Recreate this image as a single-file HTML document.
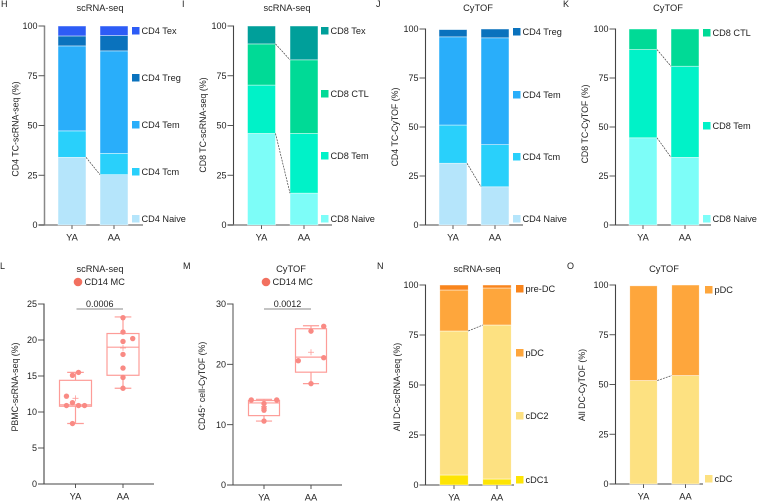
<!DOCTYPE html>
<html lang="en">
<head>
<meta charset="utf-8">
<title>Immune cell composition charts</title>
<style>
html,body{margin:0;padding:0;background:#fff;width:758px;height:501px;overflow:hidden}
svg{display:block}
text{font-family:"Liberation Sans",sans-serif;fill:#222}
</style>
</head>
<body>
<svg id="figure" width="758" height="501" viewBox="0 0 758 501" xmlns="http://www.w3.org/2000/svg"></svg>
<script>
// ---------- chart data ----------
const groups = ['YA', 'AA'];
const stackTicks = [0, 25, 50, 75, 100];

const hNaive = [34, 25.3];
const hTcm = [13.3, 10.7];
const hTem = [42.7, 51.5];
const hTreg = [5, 7.7];
const hTex = [5, 4.8];

const iNaive = [46, 16];
const iTem = [24.3, 30];
const iCtl = [20.7, 37];
const iTex = [9, 17];

const jNaive = [31.5, 19.5];
const jTcm = [19.5, 21.5];
const jTem = [45, 54.5];
const jTreg = [3.7, 4.5];

const kNaive = [44.5, 34.5];
const kTem = [45, 46.5];
const kCtl = [10.5, 19];

const nCdc1 = [5, 3];
const nCdc2 = [72, 77];
const nPdc = [20.5, 18.5];
const nPre = [2.5, 1.5];

const oCdc = [52, 54.5];
const oPdc = [47.6, 45.5];

const lTicks = [0, 5, 10, 15, 20, 25];
const lYaValues = [8.4, 10.9, 10.9, 10.9, 11.3, 12.2, 15.1, 15.5];
const lYaColumns = [-0.45, -1.35, 0.45, 1.35, -0.45, -1.35, -0.45, 0.45];
const lAaValues = [13.3, 14.8, 16.1, 18, 19.8, 20.2, 21.1, 23.1];
const lAaColumns = [0, 0, 0, 0, 0, 1.45, 0, 0];
const lYaBox = [8.4, 10.8, 11, 14.4, 15.5];
const lAaBox = [13.3, 15.1, 19, 20.9, 23.2];
const lMeans = [11.9, 18.9];
const lP = '0.0006';

const mTicks = [0, 10, 20, 30];
const mYaValues = [10.6, 12.4, 12.7, 13.5, 14.1, 14.1];
const mYaColumns = [0, 0, 0, 0, -1.9, 1.9];
const mAaValues = [16.8, 20.6, 21.1, 25.5, 26.3];
const mAaColumns = [0, -1.9, 1.9, 0, 1.9];
const mYaBox = [10.6, 11.5, 13.6, 14, 14.2];
const mAaBox = [16.8, 18.7, 21.2, 25.9, 26.4];
const mMeans = [13, 22];
const mP = '0.0012';

// ---------- palette ----------
const C = {
  cd4Naive:'#b5e5fb', cd4Tcm:'#29d0fb', cd4Tem:'#29aefa', cd4Treg:'#0a72bd', cd4Tex:'#2d5cf6',
  cd8Naive:'#7dfdf8', cd8Tem:'#00f2c8', cd8Ctl:'#00da96', cd8Tex:'#009f9a',
  cdc1:'#fde404', cdc2:'#fde181', pdc:'#fea63c', pre:'#f9851c',
  dotFill:'#f98a84', boxLine:'#fd9c98', legendDot:'#f2705f'
};
const DARK = '#444';
const SOFT = '#888';

// ---------- drawing helpers ----------
const NS = 'http://www.w3.org/2000/svg';
const root = document.getElementById('figure');
function mk(tag, attrs, parent) {
  const el = document.createElementNS(NS, tag);
  for (const k in attrs) el.setAttribute(k, attrs[k]);
  parent.appendChild(el);
  return el;
}
function label(str, x, y, size, anchor, parent) {
  const el = mk('text', {x:x, y:y, 'font-size':size, 'text-anchor':anchor}, parent);
  el.textContent = str;
  return el;
}
function slug(s) {
  return String(s).toLowerCase().replace(/[^a-z0-9]+/g, '-');
}

function drawFrame(g, p, ticks, max) {
  const yScale = v => p.y0 - (v / max) * (p.y0 - p.yTop);

  const title = label(p.title, p.titleX, p.titleY, 9.3, 'middle', g);
  
  

  const letter = label(p.letter, p.letterX, p.letterY, 9, 'start', g);
  
  

  const yt = mk('text', {
    'font-size':8.8, 'text-anchor':'middle',
    transform:'translate(' + p.ytX + ' ' + p.ytY + ') rotate(-90)'
  }, g);
  
  
  if (p.yTitleSup) {
    yt.appendChild(document.createTextNode(p.yTitleSup[0]));
    const sup = mk('tspan', {dy:-2.5, 'font-size':5.5}, yt);
    sup.textContent = '+';
    const rest = mk('tspan', {dy:2.5}, yt);
    rest.textContent = p.yTitleSup[1];
  } else {
    yt.textContent = p.yTitle;
  }

  const yAxis = mk('line', {x1:p.axisX, x2:p.axisX, y1:p.yTop - 0.5, y2:p.y0, stroke:p.ySoft ? SOFT : DARK, 'stroke-width':p.ySoft ? 1.5 : 1.1}, g);
  
  

  const xAxis = mk('line', {x1:p.axisX - 6, x2:p.axisEnd, y1:p.y0, y2:p.y0, stroke:p.xSoft ? SOFT : DARK, 'stroke-width':p.xSoft ? 1.5 : 1.1}, g);
  
  

  ticks.forEach(t => {
    const y = yScale(t);
    const tick = mk('line', {x1:p.axisX - 6, x2:p.axisX, y1:y, y2:y, stroke:DARK, 'stroke-width':0.9}, g);
    
    
    const tl = label(t, p.axisX - 7, y + 3.2, 9, 'end', g);
    
    
  });

  groups.forEach((name, i) => {
    const cx = p.centers[i];
    const tick = mk('line', {x1:cx, x2:cx, y1:p.y0, y2:p.y0 + 4, stroke:DARK, 'stroke-width':0.9}, g);
    
    
    const tl = label(name, cx, p.y0 + 15.5, 9.3, 'middle', g);
    
    
  });
  return yScale;
}

function drawStacked(p) {
  const g = mk('g', {}, root);
  
  
  const yScale = drawFrame(g, p, stackTicks, 100);
  const half = p.barW / 2;

  groups.forEach((name, gi) => {
    let cum = 0;
    p.series.forEach(s => {
      const v = s.values[gi];
      const yTopSeg = yScale(cum + v);
      const yBot = yScale(cum);
      const r = mk('rect', {
        x:p.centers[gi] - half, y:yTopSeg, width:p.barW, height:Math.max(0, yBot - yTopSeg),
        fill:s.color, stroke:'rgba(255,255,255,0.65)', 'stroke-width':0.7
      }, g);
      
      
      cum += v;
    });
  });

  (p.connect || []).forEach(level => {
    let a = 0, b = 0;
    for (let i = 0; i <= level; i++) {
      a += p.series[i].values[0];
      b += p.series[i].values[1];
    }
    const c = mk('line', {
      x1:p.centers[0] + half, y1:yScale(a), x2:p.centers[1] - half, y2:yScale(b),
      stroke:'#444', 'stroke-width':0.7, 'stroke-dasharray':'2 1'
    }, g);
    
    
  });

  p.series.forEach((s, i) => {
    const ly = p.legendY[i];
    const sw = mk('rect', {x:p.swatchX, y:ly - 4, width:7.5, height:7.5, fill:s.color}, g);
    
    
    const t = label(s.name, p.swatchX + 9.5, ly + 3.2, 9.2, 'start', g);
    
    
  });
}

function drawBox(g, cx, halfW, box, mean, yScale) {
  const [lo, q1, med, q3, hi] = box;
  const capW = halfW * 0.52;
  const whisk = mk('path', {
    d:'M' + cx + ' ' + yScale(hi) + 'V' + yScale(q3) + 'M' + cx + ' ' + yScale(q1) + 'V' + yScale(lo) +
      'M' + (cx - capW) + ' ' + yScale(hi) + 'H' + (cx + capW) +
      'M' + (cx - capW) + ' ' + yScale(lo) + 'H' + (cx + capW),
    fill:'none', stroke:C.boxLine, 'stroke-width':1.2
  }, g);
  
  

  const box2 = mk('rect', {x:cx - halfW, y:yScale(q3), width:halfW * 2, height:yScale(q1) - yScale(q3), fill:'none', stroke:C.boxLine, 'stroke-width':1.2}, g);
  
  

  const medLine = mk('line', {x1:cx - halfW, x2:cx + halfW, y1:yScale(med), y2:yScale(med), stroke:C.boxLine, 'stroke-width':1.2}, g);
  
  

  const my = yScale(mean);
  const plus = mk('path', {d:'M' + (cx - 3) + ' ' + my + 'H' + (cx + 3) + 'M' + cx + ' ' + (my - 3) + 'V' + (my + 3), stroke:C.boxLine, 'stroke-width':0.8, fill:'none'}, g);
  
  
}

function drawBoxPanel(p) {
  const g = mk('g', {}, root);
  
  
  const yScale = drawFrame(g, p, p.ticks, p.max);

  const ld = mk('circle', {cx:p.legendDotX, cy:p.legendY, r:4.3, fill:C.legendDot}, g);
  
  
  const lt = label('CD14 MC', p.legendDotX + 6.5, p.legendY + 3.2, 9.2, 'start', g);
  
  

  p.groupsData.forEach((d, gi) => {
    const cx = p.centers[gi];
    drawBox(g, cx, p.boxHalf, d.box, p.means[gi], yScale);
    d.values.forEach((v, i) => {
      const dot = mk('circle', {cx:cx + d.columns[i] * 6.7, cy:yScale(v), r:2.7, fill:C.dotFill}, g);
      
      
    });
  });

  const sig = mk('line', {x1:p.centers[0] + p.sigInset, x2:p.centers[1], y1:p.sigY, y2:p.sigY, stroke:'#888', 'stroke-width':1.1}, g);
  
  
  const st = label(p.pValue, (p.centers[0] + p.sigInset + p.centers[1]) / 2, p.sigY - 2.2, 9, 'middle', g);
  
  
}

// ---------- panels ----------
drawStacked({
  letter:'H', letterX:1, letterY:7, title:'scRNA-seq', titleX:100, titleY:11,
  yTitle:'CD4 TC-scRNA-seq (%)', ytX:18.5, ytY:129, ySoft:true, xSoft:true,
  axisX:44.5, axisEnd:143, yTop:26, y0:225, centers:[72, 114], barW:28,
  swatchX:132, legendY:[219, 172, 125, 78, 31], connect:[0],
  series:[
    {name:'CD4 Naive', values:hNaive, color:C.cd4Naive},
    {name:'CD4 Tcm', values:hTcm, color:C.cd4Tcm},
    {name:'CD4 Tem', values:hTem, color:C.cd4Tem},
    {name:'CD4 Treg', values:hTreg, color:C.cd4Treg},
    {name:'CD4 Tex', values:hTex, color:C.cd4Tex}
  ]
});
drawStacked({
  letter:'I', letterX:182, letterY:7, title:'scRNA-seq', titleX:287, titleY:11,
  yTitle:'CD8 TC-scRNA-seq (%)', ytX:206, ytY:125, xSoft:true,
  axisX:233.5, axisEnd:332, yTop:26, y0:225, centers:[261.5, 304], barW:28,
  swatchX:321, legendY:[219, 156, 94, 31], connect:[0, 2],
  series:[
    {name:'CD8 Naive', values:iNaive, color:C.cd8Naive},
    {name:'CD8 Tem', values:iTem, color:C.cd8Tem},
    {name:'CD8 CTL', values:iCtl, color:C.cd8Ctl},
    {name:'CD8 Tex', values:iTex, color:C.cd8Tex}
  ]
});
drawStacked({
  letter:'J', letterX:376, letterY:7, title:'CyTOF', titleX:478, titleY:11,
  yTitle:'CD4 TC-CyTOF (%)', ytX:398, ytY:127,
  axisX:425.5, axisEnd:523, yTop:29, y0:225, centers:[453, 495], barW:28,
  swatchX:513, legendY:[219, 157, 95, 32], connect:[0],
  series:[
    {name:'CD4 Naive', values:jNaive, color:C.cd4Naive},
    {name:'CD4 Tcm', values:jTcm, color:C.cd4Tcm},
    {name:'CD4 Tem', values:jTem, color:C.cd4Tem},
    {name:'CD4 Treg', values:jTreg, color:C.cd4Treg}
  ]
});
drawStacked({
  letter:'K', letterX:563, letterY:7, title:'CyTOF', titleX:668, titleY:11,
  yTitle:'CD8 TC-CyTOF (%)', ytX:588, ytY:124,
  axisX:615.5, axisEnd:711, yTop:29, y0:225, centers:[643, 685], barW:28,
  swatchX:703, legendY:[219, 126, 33], connect:[0, 1],
  series:[
    {name:'CD8 Naive', values:kNaive, color:C.cd8Naive},
    {name:'CD8 Tem', values:kTem, color:C.cd8Tem},
    {name:'CD8 CTL', values:kCtl, color:C.cd8Ctl}
  ]
});
drawBoxPanel({
  letter:'L', letterX:0, letterY:269, title:'scRNA-seq', titleX:100, titleY:272,
  yTitle:'PBMC-scRNA-seq (%)', ytX:18, ytY:387,
  axisX:44, axisEnd:154, yTop:304, y0:484, centers:[75.5, 123], boxHalf:16,
  ticks:lTicks, max:25, means:lMeans, pValue:lP, sigY:309, sigInset:1,
  legendDotX:78, legendY:282,
  groupsData:[
    {values:lYaValues, columns:lYaColumns, box:lYaBox},
    {values:lAaValues, columns:lAaColumns, box:lAaBox}
  ]
});
drawBoxPanel({
  letter:'M', letterX:183, letterY:269, title:'CyTOF', titleX:291, titleY:272,
  yTitleSup:['CD45', ' cell-CyTOF (%)'], ytX:205, ytY:386, ySoft:true,
  axisX:233, axisEnd:342, yTop:304, y0:485, centers:[264, 311], boxHalf:15.5,
  ticks:mTicks, max:30, means:mMeans, pValue:mP, sigY:309, sigInset:0,
  legendDotX:266, legendY:282,
  groupsData:[
    {values:mYaValues, columns:mYaColumns, box:mYaBox},
    {values:mAaValues, columns:mAaColumns, box:mAaBox}
  ]
});
drawStacked({
  letter:'N', letterX:377, letterY:269, title:'scRNA-seq', titleX:477, titleY:272,
  yTitle:'All DC-scRNA-seq (%)', ytX:400, ytY:387,
  axisX:425.5, axisEnd:514, yTop:285, y0:485, centers:[454, 497], barW:28.5,
  swatchX:516, legendY:[480, 416, 353, 289], connect:[1],
  series:[
    {name:'cDC1', values:nCdc1, color:C.cdc1},
    {name:'cDC2', values:nCdc2, color:C.cdc2},
    {name:'pDC', values:nPdc, color:C.pdc},
    {name:'pre-DC', values:nPre, color:C.pre}
  ]
});
drawStacked({
  letter:'O', letterX:567, letterY:269, title:'CyTOF', titleX:664, titleY:272,
  yTitle:'All DC-CyTOF (%)', ytX:585, ytY:385,
  axisX:615.5, axisEnd:703, yTop:285, y0:484, centers:[643.5, 685.5], barW:27.5,
  swatchX:705, legendY:[479, 290], connect:[0],
  series:[
    {name:'cDC', values:oCdc, color:C.cdc2},
    {name:'pDC', values:oPdc, color:C.pdc}
  ]
});
</script>
</body>
</html>
